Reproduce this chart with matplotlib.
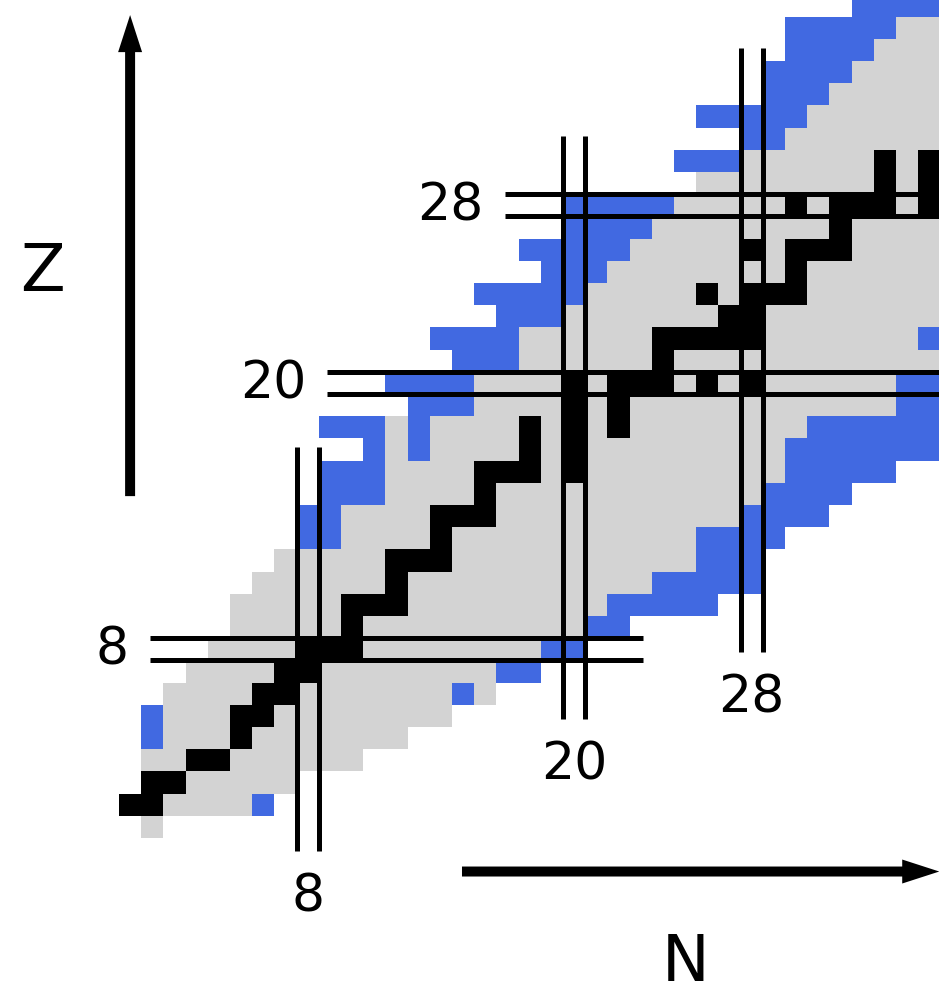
import numpy as np
import matplotlib.pyplot as plt
from matplotlib.colors import ListedColormap
from matplotlib.patches import FancyArrow

# proton number Z -> lightest / heaviest neutron number N drawn in that row
n_first = [1, 0, 1, 1, 1, 1, 2, 3, 4, 5, 5, 6, 7, 8, 8, 9, 9, 11, 9, 13,
           12, 15, 14, 17, 16, 19, 18, 20, 20, 26, 25, 28, 26, 29, 29, 30, 30, 33]
n_last = [1, 6, 7, 10, 12, 14, 16, 18, 20, 22, 26, 28, 28, 29, 31, 32, 34, 36, 36, 36,
          36, 36, 36, 36, 36, 36, 36, 36, 36, 36, 36, 36, 36, 36, 36, 36, 36, 36]

# stable nuclides (black), N values per Z
stable = {
    1: [0, 1], 2: [1, 2], 3: [3, 4], 4: [5], 5: [5, 6], 6: [6, 7], 7: [7, 8],
    8: [8, 9, 10], 9: [10], 10: [10, 11, 12], 11: [12], 12: [12, 13, 14],
    13: [14], 14: [14, 15, 16], 15: [16], 16: [16, 17, 18, 20], 17: [18, 20],
    18: [18, 20, 22], 19: [20, 22], 20: [20, 22, 23, 24, 26, 28], 21: [24],
    22: [24, 25, 26, 27, 28], 23: [27, 28], 24: [26, 28, 29, 30], 25: [30],
    26: [28, 30, 31, 32], 27: [32], 28: [30, 32, 33, 34, 36], 29: [34, 36],
    30: [34, 36],
}

# particle-unbound nuclides (blue), N values per Z
unbound = {
    1: [6], 4: [1], 5: [1], 6: [15], 7: [17, 18], 8: [19, 20], 9: [21, 22],
    10: [22, 23, 24, 25, 26], 11: [24, 25, 26, 27, 28], 12: [26, 27, 28],
    13: [8, 9, 26, 27, 28, 29], 14: [8, 9, 28, 29, 30, 31],
    15: [9, 10, 11, 29, 30, 31, 32], 16: [9, 10, 11, 30, 31, 32, 33, 34],
    17: [11, 13, 30, 31, 32, 33, 34, 35, 36],
    18: [9, 10, 11, 13, 31, 32, 33, 34, 35, 36],
    19: [13, 14, 15, 35, 36], 20: [12, 13, 14, 15, 35, 36],
    21: [15, 16, 17], 22: [14, 15, 16, 17, 36], 23: [17, 18, 19],
    24: [16, 17, 18, 19, 20], 25: [19, 20, 21], 26: [18, 19, 20, 21, 22],
    27: [20, 21, 22, 23], 28: [20, 21, 22, 23, 24], 30: [25, 26, 27],
    31: [28, 29], 32: [26, 27, 28, 29, 30], 33: [29, 30, 31],
    34: [29, 30, 31, 32], 35: [30, 31, 32, 33], 36: [30, 31, 32, 33, 34],
    37: [33, 34, 35, 36],
}

magic = [8, 20, 28]
# horizontal Z=magic lines run along N, vertical N=magic lines run along Z
zline_from = [1.4, 9.38, 17.39]
zline_to = [23.6, 40.0, 40.0]
nline_from = [-0.6, 5.35, 8.36]
nline_to = [17.6, 31.6, 35.6]

n_max = 36
grid = np.zeros((len(n_first), n_max + 1))
for z in range(len(n_first)):
    for n in range(n_first[z], min(n_last[z], n_max) + 1):
        grid[z, n] = 1
    for n in unbound.get(z, []):
        grid[z, n] = 2
    for n in stable.get(z, []):
        grid[z, n] = 3

cell = 22.2
fig = plt.figure(figsize=(9.39, 9.86), dpi=100)
ax = fig.add_axes([0, 0, 1, 1])
ax.set_xlim(-119 / cell, 820 / cell)
ax.set_ylim(-148 / cell, 838 / cell)
ax.axis('off')

cmap = ListedColormap(['lightgray', 'royalblue', 'black'])
ax.pcolormesh(np.arange(n_max + 2), np.arange(len(n_first) + 1),
              np.ma.masked_equal(grid, 0), cmap=cmap, vmin=0.5, vmax=3.5,
              edgecolors='none', antialiased=False)

lw = 3.6
fs = 37.5
for m, a, b, c, d in zip(magic, zline_from, zline_to, nline_from, nline_to):
    for off in (0, 1):
        ax.plot([a, b], [m + off, m + off], color='black', lw=lw, solid_capstyle='butt')
        ax.plot([m + off, m + off], [c, d], color='black', lw=lw, solid_capstyle='butt')
    ax.text(a - 0.95, m - 0.19, str(m), ha='right', va='baseline', fontsize=fs)
    ax.text(m + 0.5, c - 2.7, str(m), ha='center', va='baseline', fontsize=fs)

# axis arrows
ax.add_patch(FancyArrow(0.5, 15.4, 0, 37.07 - 15.4, width=0.45, head_width=1.08,
                        head_length=1.67, length_includes_head=True,
                        color='black', lw=0))
ax.add_patch(FancyArrow(15.45, -1.51, 36.95 - 15.45, 0, width=0.45, head_width=1.08,
                        head_length=1.67, length_includes_head=True,
                        color='black', lw=0))
ax.text(-3.47, 24.65, 'Z', ha='center', va='baseline', fontsize=47)
ax.text(25.52, -6.45, 'N', ha='center', va='baseline', fontsize=46)

fig.savefig('out.png', dpi=100)
